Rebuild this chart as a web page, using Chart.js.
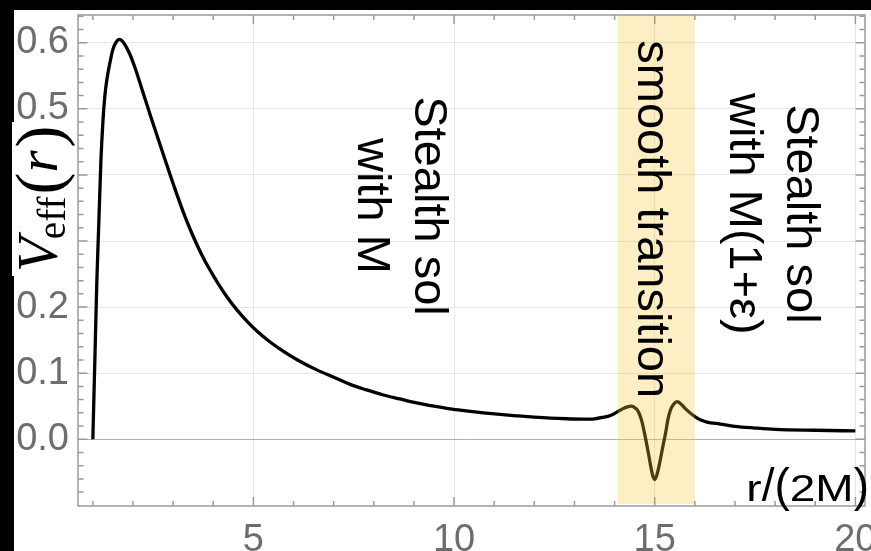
<!DOCTYPE html>
<html>
<head>
<meta charset="utf-8">
<script src="https://cdn.jsdelivr.net/npm/chart.js@4"></script>
<style>
  html, body { margin: 0; padding: 0; background: #000; }
  canvas { display: block; }
</style>
</head>
<body>
<canvas id="chart" width="871" height="551"></canvas>
<script>
// r/(2M) and V_eff(r)
const rValues = [1.00, 1.05, 1.10, 1.15, 1.20, 1.25, 1.30, 1.36, 1.42, 1.50, 1.58, 1.66, 1.74, 1.82, 1.92,
  2.04, 2.16, 2.29, 2.45, 2.63, 2.80, 2.96, 3.12, 3.29, 3.45, 3.62, 3.80, 3.95, 4.15, 4.37, 4.60, 4.85,
  5.10, 5.40, 5.75, 6.10, 6.58, 7.00, 7.41, 7.80, 8.24, 8.65, 9.07, 9.50, 9.90, 10.3, 10.73, 11.15,
  11.56, 12.0, 12.4, 12.8, 13.2, 13.5, 13.7, 13.9, 14.06, 14.2, 14.32, 14.42, 14.52, 14.6, 14.68, 14.76,
  14.83, 14.89, 14.95, 15.0, 15.05, 15.12, 15.2, 15.27, 15.33, 15.39, 15.47, 15.56, 15.66, 15.77, 15.9,
  16.01, 16.15, 16.3, 16.63, 17.0, 17.5, 18.0, 19.0, 20.0];
const vValues = [0.000, 0.120, 0.240, 0.330, 0.420, 0.480, 0.520, 0.548, 0.568, 0.590, 0.601, 0.605, 0.602, 0.595, 0.583,
  0.564, 0.542, 0.517, 0.487, 0.454, 0.423, 0.394, 0.366, 0.338, 0.314, 0.291, 0.269, 0.253, 0.233, 0.213, 0.195, 0.178,
  0.163, 0.148, 0.133, 0.120, 0.105, 0.094, 0.083, 0.075, 0.067, 0.061, 0.055, 0.050, 0.046, 0.043, 0.040, 0.0375,
  0.0355, 0.0335, 0.032, 0.031, 0.0305, 0.031, 0.033, 0.036, 0.041, 0.046, 0.049, 0.050, 0.047, 0.041, 0.027, 0.005,
  -0.017, -0.037, -0.055, -0.061, -0.055, -0.037, -0.012, 0.009, 0.030, 0.044, 0.053, 0.057, 0.053, 0.046, 0.039,
  0.034, 0.029, 0.026, 0.023, 0.0195, 0.017, 0.015, 0.0136, 0.0126];

const xTickLabels = [5, 10, 15, 20];
const yTickLabels = [0.0, 0.1, 0.2, 0.3, 0.4, 0.5, 0.6];
const xMinorTicks = [1, 2, 3, 4, 5, 6, 7, 8, 9, 10, 11, 12, 13, 14, 15, 16, 17, 18, 19, 20];
const yMinorTicks = [];
for (let i = -4; i <= 32; i++) yMinorTicks.push(Math.round(i * 2) / 100);

const transitionBand = [14.08, 16.0];
const regionTexts = [
  { lines: ['Stealth sol', 'with M'], x: 9.03, y: 0.353 },
  { lines: ['smooth transition'], x: 14.59, y: 0.333 },
  { lines: ['Stealth sol', 'with M(1+\u03b5)'], x: 18.29, y: 0.341 }
];

const SANS = '"Liberation Sans", Arial, sans-serif';
const SERIF = '"Liberation Serif", "DejaVu Serif", serif';

const isMajorX = v => xTickLabels.includes(v);
const isMajorY = v => yTickLabels.some(t => Math.abs(t - v) < 1e-6);

const figurePlugin = {
  id: 'figure',
  beforeDraw(chart) {
    const c = chart.ctx;
    c.save();
    c.fillStyle = '#000';
    c.fillRect(0, 0, chart.width, chart.height);
    c.fillStyle = '#fff';
    c.fillRect(14, 10, chart.width - 14, chart.height - 10);
    c.restore();
  },
  afterDatasetsDraw(chart) {
    const c = chart.ctx;
    const { left, right, top, bottom } = chart.chartArea;
    const xs = chart.scales.x, ys = chart.scales.y;

    // yellow band, drawn over the curve
    c.save();
    c.fillStyle = 'rgba(250, 200, 60, 0.3)';
    const b0 = xs.getPixelForValue(transitionBand[0]);
    const b1 = xs.getPixelForValue(transitionBand[1]);
    c.fillRect(b0, top, b1 - b0, bottom - top - 2);

    // frame with inward ticks
    c.strokeStyle = '#9a9a9a';
    c.lineWidth = 1.5;
    c.strokeRect(left, top, right - left, bottom - top);
    c.beginPath();
    xMinorTicks.forEach(v => {
      const px = xs.getPixelForValue(v);
      const len = isMajorX(v) ? 9 : 5;
      c.moveTo(px, bottom); c.lineTo(px, bottom - len);
      c.moveTo(px, top); c.lineTo(px, top + len);
    });
    yMinorTicks.forEach(v => {
      const py = ys.getPixelForValue(v);
      if (py < top || py > bottom) return;
      const len = isMajorY(v) ? 9.5 : 5.5;
      c.moveTo(left, py); c.lineTo(left + len, py);
      c.moveTo(right, py); c.lineTo(right - len, py);
    });
    c.stroke();

    // region labels, rotated to read top to bottom
    c.fillStyle = '#000';
    c.font = '47px ' + SANS;
    c.textAlign = 'center';
    c.textBaseline = 'alphabetic';
    regionTexts.forEach(t => {
      c.save();
      c.translate(xs.getPixelForValue(t.x), ys.getPixelForValue(t.y));
      c.rotate(Math.PI / 2);
      t.lines.forEach((line, i) => c.fillText(line, 0, i * 57));
      c.restore();
    });

    // x axis title: letters a bit squashed, slash and parens full height
    c.font = '46px ' + SANS;
    c.textAlign = 'left';
    const parts = [['r', true], ['/', false], ['(', false], ['2M', true], [')', false]];
    let total = 0;
    parts.forEach(p => { total += c.measureText(p[0]).width; });
    let px = 869 - total;
    parts.forEach(([s, squash]) => {
      c.save();
      c.translate(px, 501);
      if (squash) c.scale(1, 0.8);
      c.fillText(s, 0, 0);
      c.restore();
      px += c.measureText(s).width;
    });
    c.restore();
  },
  afterDraw(chart) {
    // y axis title on a white box that hides some tick labels
    const c = chart.ctx;
    c.save();
    c.fillStyle = '#fff';
    c.fillRect(12, 122, 62, 154);
    c.translate(57, 272);
    c.rotate(-Math.PI / 2);
    c.fillStyle = '#000';
    c.textBaseline = 'alphabetic';
    c.textAlign = 'left';
    let x = 0;
    c.font = 'italic 57px ' + SERIF;
    c.fillText('V', x, 0); x += c.measureText('V').width - 2;
    c.font = '39px ' + SERIF;
    c.fillText('eff', x, 8); x += c.measureText('eff').width + 2;
    c.font = '66px ' + SERIF;
    c.fillText('(', x, 4); x += c.measureText('(').width;
    c.font = 'italic 57px ' + SERIF;
    c.fillText('r', x, 0); x += c.measureText('r').width + 3;
    c.font = '66px ' + SERIF;
    c.fillText(')', x, 4);
    c.restore();
  }
};

new Chart(document.getElementById('chart'), {
  type: 'scatter',
  data: {
    datasets: [{
      data: rValues.map((r, i) => ({ x: r, y: vValues[i] })),
      showLine: true,
      borderColor: '#000',
      borderWidth: 3.3,
      pointRadius: 0,
      cubicInterpolationMode: 'monotone'
    }]
  },
  options: {
    responsive: false,
    animation: false,
    layout: { padding: { top: 15, right: 6, left: 0, bottom: 0 } },
    plugins: { legend: { display: false }, tooltip: { enabled: false } },
    scales: {
      x: {
        type: 'linear', min: 0.63, max: 20.24,
        afterBuildTicks: s => { s.ticks = xMinorTicks.map(v => ({ value: v })); },
        afterFit: s => { s.height = 45; s.paddingLeft = 0; s.paddingRight = 0; },
        border: { display: false },
        grid: { drawTicks: false, lineWidth: 1, color: ctx => isMajorX(ctx.tick.value) ? '#e6e6e6' : 'rgba(0,0,0,0)' },
        ticks: {
          autoSkip: false, maxRotation: 0, padding: 12, color: '#6d6d6d',
          font: { family: SANS, size: 38 },
          callback: v => isMajorX(v) ? String(v) : ''
        }
      },
      y: {
        min: -0.101, max: 0.642,
        afterBuildTicks: s => { s.ticks = yMinorTicks.map(v => ({ value: v })); },
        afterFit: s => { s.width = 78; s.paddingTop = 0; s.paddingBottom = 0; },
        border: { display: false },
        grid: {
          drawTicks: false, lineWidth: 1,
          color: ctx => {
            const v = ctx.tick.value;
            if (Math.abs(v) < 1e-6) return '#b0b0b0';
            return isMajorY(v) ? '#e6e6e6' : 'rgba(0,0,0,0)';
          }
        },
        ticks: {
          autoSkip: false, padding: 9, color: '#6d6d6d',
          font: { family: SANS, size: 38 },
          callback: v => isMajorY(v) ? v.toFixed(1) : ''
        }
      }
    }
  },
  plugins: [figurePlugin]
});
</script>
</body>
</html>
